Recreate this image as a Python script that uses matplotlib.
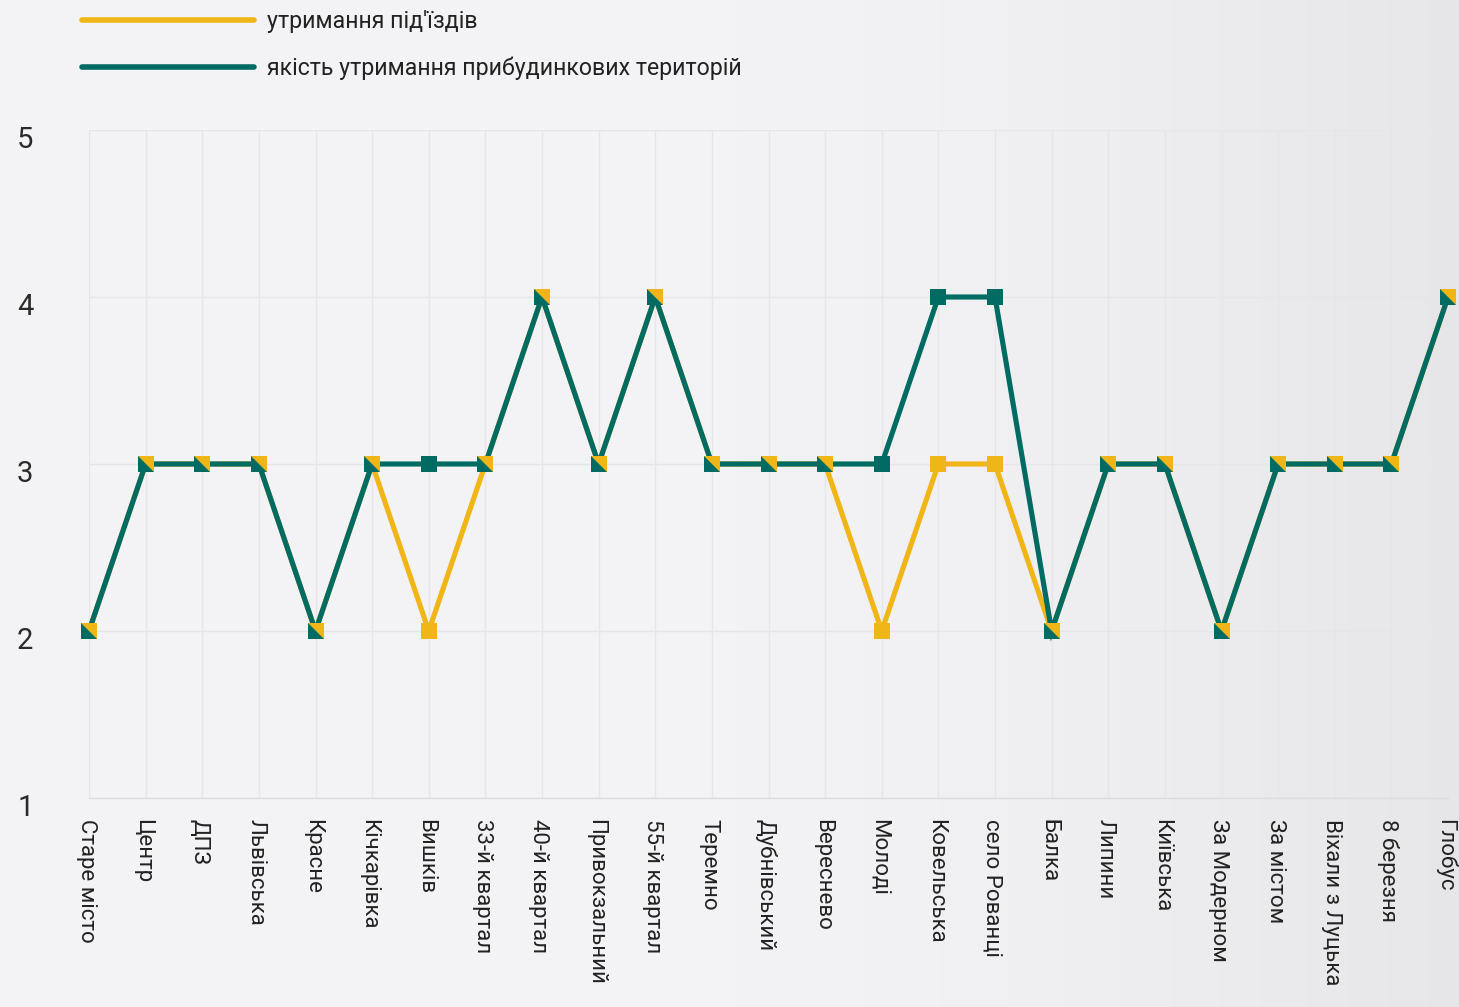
import numpy as np
import matplotlib
matplotlib.use("Agg")
import matplotlib.pyplot as plt
from matplotlib.path import Path
from matplotlib.lines import Line2D
import matplotlib.transforms as mtransforms

plt.rcParams['font.family'] = ['Roboto', 'DejaVu Sans']

categories = ["Старе місто", "Центр", "ДПЗ", "Львівська", "Красне", "Кічкарівка",
              "Вишків", "33-й квартал", "40-й квартал", "Привокзальний", "55-й квартал",
              "Теремно", "Дубнівський", "Вереснево", "Молоді", "Ковельська",
              "село Рованці", "Балка", "Липини", "Київська", "За Модерном",
              "За містом", "Віхали з Луцька", "8 березня", "Глобус"]
entrances = [2, 3, 3, 3, 2, 3, 2, 3, 4, 3, 4, 3, 3, 3, 2, 3, 3, 2, 3, 3, 2, 3, 3, 3, 4]
territories = [2, 3, 3, 3, 2, 3, 3, 3, 4, 3, 4, 3, 3, 3, 3, 4, 4, 2, 3, 3, 2, 3, 3, 3, 4]
series_names = ["утримання під'їздів", "якість утримання прибудинкових територій"]
yticks = [1, 2, 3, 4, 5]

YELLOW = "#F0B516"
TEAL = "#006B62"
TXT = "#222222"

W, H = 1459, 1007
fig = plt.figure(figsize=(W / 100, H / 100), dpi=100)

# background gradient
bg = fig.add_axes([0, 0, 1, 1], zorder=-10)
xg = np.linspace(0, 1, 400)
shade = 0.953 - 0.05 * np.clip((xg - 0.5) / 0.5, 0, 1) ** 1.5
img = np.tile(shade, (10, 1))
rgb = np.dstack([img, img, img + 0.008])
bg.imshow(np.clip(rgb, 0, 1), aspect='auto', extent=[0, 1, 0, 1])
bg.set_axis_off()

ax = fig.add_axes([89 / W, (H - 798) / H, (1448 - 89) / W, (798 - 130) / H])
ax.patch.set_alpha(0)

x = np.arange(len(categories))
e = np.array(entrances)
t = np.array(territories)
same = e == t
diff = ~same

ax.plot(x, e, color=YELLOW, lw=3.7, zorder=3, solid_joinstyle='miter')
ax.plot(x, t, color=TEAL, lw=3.7, zorder=4, solid_joinstyle='miter')
ax.plot(x, t, ls='none', marker='s', ms=11, mfc=TEAL, mec=TEAL, mew=0, zorder=5, clip_on=False)
ax.plot(x[diff], e[diff], ls='none', marker='s', ms=11, mfc=YELLOW, mec=YELLOW, mew=0, zorder=6, clip_on=False)
tri = Path([(-1, 1), (1, 1), (1, -1), (-1, 1)],
           [Path.MOVETO, Path.LINETO, Path.LINETO, Path.CLOSEPOLY])
ax.plot(x[same], e[same], ls='none', marker=tri, ms=11, mfc=YELLOW, mec=YELLOW, mew=0, zorder=7, clip_on=False)

ax.set_xlim(0, len(categories) - 1)
ax.set_ylim(1, 5)
ax.set_yticks(yticks)
ax.set_yticklabels([str(v) for v in yticks], fontsize=21, color="#2a2a2a")
ax.set_xticks(x)
ax.set_xticklabels(categories, rotation=270, fontsize=16, color=TXT, va='top', ha='center')
ax.tick_params(axis='both', length=0)
ax.tick_params(axis='y', pad=40)
ax.tick_params(axis='x', pad=15)
for lab in ax.get_yticklabels():
    lab.set_transform(lab.get_transform() + mtransforms.ScaledTranslation(0, -0.07, fig.dpi_scale_trans))
for lab in ax.get_xticklabels():
    lab.set_transform(lab.get_transform() + mtransforms.ScaledTranslation(-0.03, 0, fig.dpi_scale_trans))

ax.grid(True, color="#e6e6ea", lw=1)
for s in ['top', 'right', 'left']:
    ax.spines[s].set_visible(False)
ax.spines['bottom'].set_color("#dcdce0")
ax.spines['bottom'].set_linewidth(1)

handles = [Line2D([], [], color=YELLOW, lw=4, solid_capstyle='round'),
           Line2D([], [], color=TEAL, lw=4, solid_capstyle='round')]
fig.legend(handles, series_names, loc='upper left', bbox_to_anchor=(61 / W, 1 + 11 / H),
           frameon=False, fontsize=16.7, handlelength=7.4, handletextpad=0.6,
           labelspacing=1.03, labelcolor=TXT)

fig.savefig("out.png", dpi=100)
